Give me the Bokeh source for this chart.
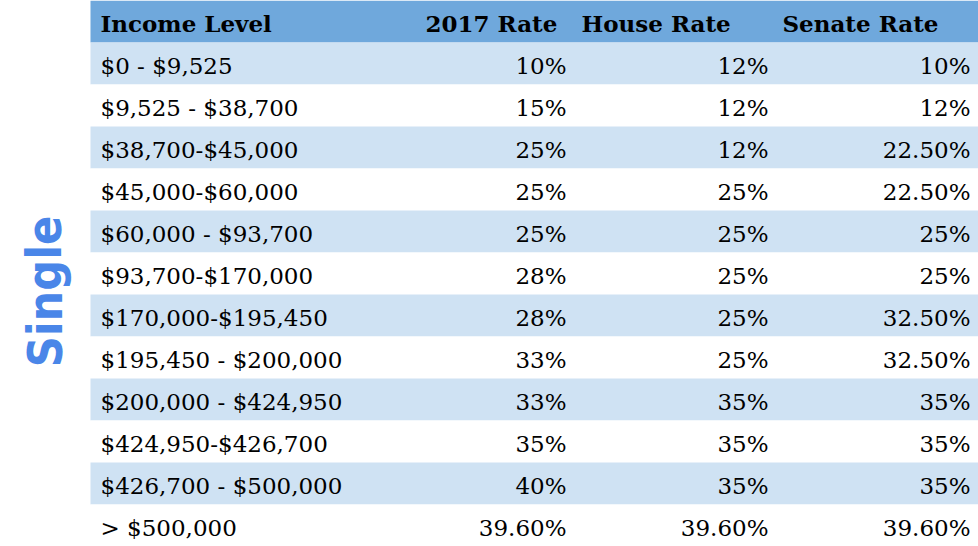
from bokeh.plotting import figure
from bokeh.models import Range1d, ColumnDataSource, Label
from bokeh.core.properties import value
from bokeh.embed import file_html
from bokeh.resources import INLINE

# ---- data ----
income_levels = ["$0 - $9,525", "$9,525 - $38,700", "$38,700-$45,000", "$45,000-$60,000",
                 "$60,000 - $93,700", "$93,700-$170,000", "$170,000-$195,450",
                 "$195,450 - $200,000", "$200,000 - $424,950", "$424,950-$426,700",
                 "$426,700 - $500,000", "> $500,000"]
rate_2017 = [10, 15, 25, 25, 25, 28, 28, 33, 33, 35, 40, 39.6]
house_rate = [12, 12, 12, 25, 25, 25, 25, 25, 35, 35, 35, 39.6]
senate_rate = [10, 12, 22.5, 22.5, 25, 25, 32.5, 32.5, 35, 35, 35, 39.6]
headers = ["Income Level", "2017 Rate", "House Rate", "Senate Rate"]
group_label = "Single"

def fmt(v):
    return f"{v:.0f}%" if float(v).is_integer() else f"{v:.2f}%"

n = len(income_levels)
idx = list(range(n))
band_colors = ["#cfe2f3" if i % 2 == 0 else "#ffffff" for i in idx]

rows = ColumnDataSource(dict(
    top=[i for i in idx], bottom=[i + 1 for i in idx], color=band_colors,
    y=[i + 0.55 for i in idx], income=income_levels,
    r17=[fmt(v) for v in rate_2017], rh=[fmt(v) for v in house_rate],
    rs=[fmt(v) for v in senate_rate]))

# ---- layout ----
W, H = 978, 546
ROW = 42.0
p = figure(width=W, height=H, output_backend="svg", toolbar_location=None,
           x_range=Range1d(0, W), y_range=Range1d((H - ROW) / ROW, -1),
           min_border=0)
p.axis.visible = False
p.grid.visible = False
p.outline_line_color = None
p.background_fill_color = "white"
p.border_fill_color = "white"

TABLE_L, TABLE_R = 90, 1000
p.quad(left=TABLE_L, right=TABLE_R, top=-1, bottom=0, color="#6fa8dc", line_color=None)
p.quad(left=TABLE_L, right=TABLE_R, top="top", bottom="bottom", color="color",
       line_color=None, source=rows)

body_font = value("DejaVu Serif")
fs = "23px"
p.text(x=100, y="y", text="income", source=rows, text_font=body_font,
       text_font_size=fs, text_baseline="middle", text_align="left", text_color="#000000")
for col, xr in (("r17", 566), ("rh", 768), ("rs", 970)):
    p.text(x=xr, y="y", text=col, source=rows, text_font=body_font,
           text_font_size=fs, text_baseline="middle", text_align="right", text_color="#000000")

hsrc = ColumnDataSource(dict(x=[100, 425, 581, 782], y=[-0.45] * 4, t=headers))
p.text(x="x", y="y", text="t", source=hsrc, text_font=body_font, text_font_size="23px",
       text_font_style="bold", text_baseline="middle", text_align="left", text_color="#000000")

p.add_layout(Label(x=44, y=(291 - ROW) / ROW, text=group_label, angle=1.5708,
                   text_font="DejaVu Sans Condensed", text_font_style="bold",
                   text_font_size="48px", text_color="#4a86e8",
                   text_align="center", text_baseline="middle"))

open("out.html", "w").write(file_html(p, INLINE))
